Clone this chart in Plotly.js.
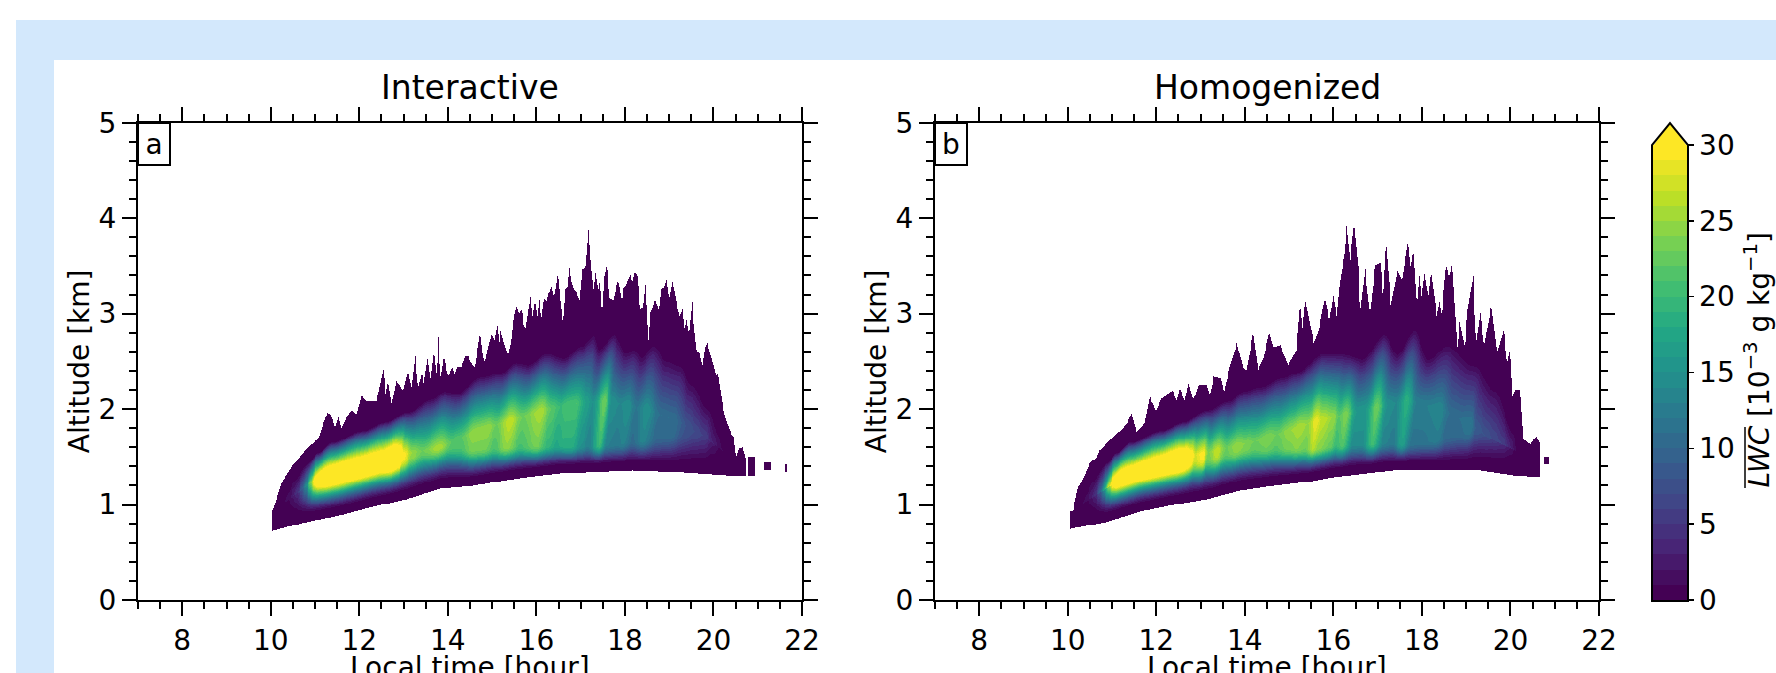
<!DOCTYPE html>
<html><head><meta charset="utf-8">
<script src="https://cdn.plot.ly/plotly-3.0.1.min.js"></script>
<style>
html,body{margin:0;padding:0;background:#fff;overflow:hidden;width:1776px;height:673px}
#blue{position:absolute;left:16px;top:20px;width:1760px;height:653px;background:#d3e8fc}
#white{position:absolute;left:54px;top:60px;width:1722px;height:613px;background:#fff}
#chart{position:absolute;left:0;top:0;width:1776px;height:673px}
</style></head><body>
<div id="blue"></div><div id="white"></div><div id="chart"></div>
<script>
// ---- values (hour, km, 10^-3 g/kg) ----
const aTopHour=[10.04,10.12,10.25,10.47,10.62,10.81,11.07,11.19,11.28,11.37,11.45,11.53,11.6,11.71,11.83,11.94,12.05,12.16,12.39,12.54,12.6,12.65,12.73,12.84,12.99,13.1,13.18,13.26,13.33,13.41,13.46,13.54,13.61,13.69,13.75,13.78,13.84,13.91,14.01,14.09,14.16,14.21,14.31,14.39,14.46,14.54,14.61,14.67,14.73,14.79,14.84,14.91,14.99,15.06,15.12,15.16,15.18,15.27,15.36,15.43,15.49,15.55,15.61,15.67,15.72,15.76,15.82,15.87,15.92,15.97,16.02,16.07,16.11,16.17,16.23,16.28,16.34,16.4,16.44,16.49,16.55,16.61,16.66,16.71,16.74,16.79,16.85,16.92,16.98,17.04,17.12,17.18,17.23,17.29,17.34,17.4,17.44,17.49,17.54,17.59,17.66,17.74,17.79,17.85,17.93,17.98,18.05,18.13,18.17,18.23,18.28,18.35,18.41,18.46,18.51,18.53,18.55,18.57,18.64,18.69,18.77,18.83,18.87,18.94,19.0,19.08,19.15,19.24,19.3,19.35,19.4,19.45,19.52,19.58,19.62,19.7,19.76,19.81,19.86,19.92,20.0,20.06,20.11,20.16,20.21,20.3,20.39,20.46,20.51,20.57,20.66,20.73];
const aTopAlt=[0.94,1.05,1.24,1.4,1.48,1.59,1.69,1.85,1.96,1.94,1.81,1.93,1.8,1.92,1.99,1.95,2.15,2.08,2.08,2.41,2.16,2.29,2.03,2.29,2.2,2.41,2.23,2.55,2.23,2.37,2.27,2.53,2.29,2.6,2.34,2.76,2.34,2.55,2.34,2.44,2.37,2.44,2.44,2.55,2.55,2.48,2.44,2.62,2.79,2.55,2.48,2.65,2.79,2.72,2.88,2.7,2.85,2.69,2.55,2.69,2.98,3.09,3.0,3.04,2.88,2.85,3.04,3.21,2.97,3.14,2.97,3.22,2.93,3.16,3.12,3.21,3.27,3.16,3.25,3.43,3.07,2.91,3.25,3.3,3.56,3.35,3.25,3.21,3.14,3.46,3.49,3.87,3.49,3.21,3.42,3.25,3.4,3.0,3.39,3.51,3.16,3.14,3.25,3.35,3.14,3.26,3.33,3.42,3.33,3.44,3.39,3.05,3.07,3.3,3.04,2.72,2.72,3.0,3.09,3.15,3.04,3.3,3.25,3.36,3.12,3.33,3.16,2.97,3.04,2.81,2.93,2.79,3.12,2.79,2.62,2.57,2.46,2.64,2.69,2.6,2.46,2.34,2.37,2.2,2.04,1.87,1.76,1.71,1.5,1.59,1.6,1.48];
const aBotHour=[10.04,10.8,11.56,12.3,13.07,13.82,14.57,15.33,15.78,16.53,17.13,18.18,19.32,20.3,20.72];
const aBotAlt=[0.73,0.82,0.89,0.98,1.06,1.17,1.2,1.26,1.29,1.33,1.34,1.36,1.34,1.31,1.31];
const aPeakHour=[10.1,11.0,12.9,13.82,14.57,15.33,16.15,16.9,17.55,18.5,19.3,19.8,20.4];
const aPeakAlt=[0.95,1.26,1.52,1.6,1.76,1.87,1.99,2.06,2.09,2.0,1.85,1.71,1.5];
const aCoreHour=[10.1,10.3,10.4,10.5,10.6,10.7,10.8,10.9,11.0,11.1,11.3,12.2,12.5,12.75,12.92,13.0,13.2,13.43,13.8,14.1,14.3,14.6,14.9,15.1,15.4,15.7,16.1,16.35,16.55,16.7,16.9,17.13,17.28,17.55,17.7,17.9,18.07,18.26,18.49,18.8,19.1,19.4,19.6,19.8,20.0,20.2,20.4];
const aCoreVal=[0.5,1,1.5,3,5,9,15,24,33,37,39,38,37,39,35,30,25,23,26,22,22,25,25,23,27,23,26,22,20,21,21,17,15,23,15,14,15,12,15,11,11,8,7,6,3,1,0.5];
const aFadeHour=[10.1,10.5,10.8,11,11.3,12,12.5,13,13.5,13.8,14.1,14.6,15.1,15.4,15.7,16.1,16.5,16.9,17.13,17.3,17.6,17.9,18.07,18.26,18.49,18.8,19.1,19.4,19.8,20.1,20.4];
const aFadeAlt=[1.0,1.3,1.45,1.55,1.66,1.78,1.87,1.98,2.12,2.2,2.18,2.35,2.4,2.5,2.48,2.6,2.55,2.68,2.8,2.65,2.8,2.62,2.65,2.58,2.7,2.55,2.5,2.3,2.05,1.8,1.55];
const aIslandStart=[20.8,21.16,21.62], aIslandEnd=[20.94,21.31,21.67], aIslandLow=[1.3,1.36,1.35], aIslandHigh=[1.5,1.44,1.42];

const bTopHour=[10.06,10.12,10.23,10.34,10.49,10.65,10.72,10.83,10.98,11.14,11.21,11.33,11.44,11.55,11.74,11.85,11.99,12.12,12.37,12.46,12.53,12.64,12.73,12.83,12.97,13.14,13.21,13.3,13.47,13.53,13.66,13.82,13.96,14.04,14.19,14.3,14.43,14.55,14.64,14.8,14.98,15.17,15.25,15.3,15.36,15.47,15.56,15.66,15.81,15.91,16.0,16.08,16.15,16.27,16.3,16.38,16.47,16.57,16.61,16.72,16.83,16.95,17.06,17.13,17.19,17.3,17.45,17.55,17.69,17.74,17.81,17.89,17.95,18.0,18.06,18.15,18.21,18.34,18.4,18.45,18.55,18.61,18.69,18.8,18.86,18.97,19.04,19.16,19.23,19.32,19.41,19.57,19.7,19.85,19.93,19.99,20.04,20.12,20.23,20.3,20.46,20.59,20.67];
const bTopAlt=[0.93,0.94,1.19,1.26,1.43,1.5,1.57,1.62,1.69,1.76,1.78,1.85,1.95,1.76,1.85,2.13,1.99,2.11,2.2,2.09,2.22,2.09,2.29,2.11,2.25,2.25,2.15,2.34,2.32,2.18,2.44,2.69,2.44,2.41,2.8,2.41,2.55,2.8,2.65,2.67,2.46,2.62,3.09,2.86,3.18,2.9,2.69,2.81,3.16,2.93,3.18,2.97,3.33,3.65,3.91,3.56,3.94,3.45,3.02,3.46,3.0,3.51,3.54,3.16,3.75,3.09,3.46,3.35,3.75,3.49,3.7,3.09,3.46,3.18,3.42,3.14,3.44,2.97,3.12,2.98,3.51,3.39,3.51,2.65,2.91,2.65,3.05,3.39,2.69,3.0,2.67,3.09,2.58,2.83,2.48,2.62,2.13,2.2,2.2,1.68,1.64,1.73,1.64];
const bBotHour=[10.06,10.87,11.63,12.38,13.14,13.89,14.65,15.4,16.0,16.76,17.36,19.32,20.08,20.67];
const bBotAlt=[0.75,0.82,0.93,1.0,1.06,1.15,1.2,1.24,1.29,1.33,1.36,1.36,1.31,1.29];
const bPeakHour=[10.13,11.17,12.68,14.03,15.03,15.63,16.98,17.66,18.43,19.1,19.47,20.43];
const bPeakAlt=[0.95,1.26,1.5,1.64,1.78,1.88,2.02,2.09,2.0,1.85,1.71,1.5];
const bCoreHour=[10.13,10.33,10.43,10.53,10.63,10.73,10.83,10.93,11.03,11.13,12.48,12.63,12.78,12.88,13.06,13.18,13.38,13.58,13.83,14.03,14.23,14.53,14.73,15.03,15.23,15.43,15.61,15.73,16.0,16.13,16.28,16.53,16.73,16.98,17.23,17.43,17.66,17.88,18.08,18.42,18.63,18.83,19.1,19.23,19.43,19.63,19.83,20.03,20.13,20.33];
const bCoreVal=[0.5,1,1.5,3,5,10,18,28,36,39,39,37,33,28,30,24,27,23,25,24,23,24,23,25,26,25,29,27,25,22,24,16,16,23,15,14,19,13,13,14,11,11,12,9,8,7,6,3,1,0.5];
const bFadeHour=[10.13,10.53,10.83,11.03,11.33,12.03,12.53,13.03,13.53,13.83,14.23,14.73,15.03,15.63,16.03,16.53,16.98,17.33,17.66,18.03,18.42,19.03,19.53,20.03,20.33];
const bFadeAlt=[1.0,1.3,1.45,1.55,1.66,1.78,1.87,2.0,2.1,2.2,2.25,2.35,2.4,2.6,2.6,2.55,2.8,2.6,2.85,2.55,2.7,2.5,2.25,1.8,1.6];
const bIslandStart=[20.78], bIslandEnd=[20.87], bIslandLow=[1.43], bIslandHigh=[1.5];

const hourTicks=[8,10,12,14,16,18,20,22];
const altTicks=[0,1,2,3,4,5];
const barTicks=[0,5,10,15,20,25,30];
const viridisStops=['#440154','#482475','#414487','#355f8d','#2a788e','#21918c','#22a884','#44bf70','#7ad151','#bddf26','#fde725'];

// ---- helpers ----
function lerp(xs,ys,t,round){
  if(t<=xs[0])return ys[0];
  for(let i=1;i<xs.length;i++){ if(t<=xs[i]){let f=(t-xs[i-1])/(xs[i]-xs[i-1]);if(round)f=f*f*(3-2*f);return ys[i-1]+f*(ys[i]-ys[i-1]);} }
  return ys[ys.length-1];
}
function hex(c){return [1,3,5].map(i=>parseInt(c.substr(i,2),16));}
function viridis(f){
  const p=f*(viridisStops.length-1),i=Math.min(Math.floor(p),viridisStops.length-2),g=p-i;
  const a=hex(viridisStops[i]),b=hex(viridisStops[i+1]);
  return 'rgb('+a.map((v,k)=>Math.round(v+g*(b[k]-v))).join(',')+')';
}
const bands=30, steppedScale=[];
for(let i=0;i<bands;i++){const c=viridis(i/(bands-1));steppedScale.push([i/bands,c],[(i+1)/bands,c]);}
const sstep=u=>{u=Math.max(0,Math.min(1,u));return u*u*(3-2*u);};

function field(d){
  const hours=[],alts=[],z=[];
  for(let i=0;i<600;i++)hours.push(10+i*0.02);
  for(let j=0;j<340;j++)alts.push(0.7+j*0.01);
  for(let j=0;j<alts.length;j++){
    const row=new Array(hours.length).fill(null),a=alts[j];
    for(let i=0;i<hours.length;i++){
      const t=hours[i];
      for(let k=0;k<d.isS.length;k++) if(t>=d.isS[k]&&t<=d.isE[k]&&a>=d.isL[k]&&a<=d.isH[k]) row[i]=0.3;
      if(t<d.topH[0]||t>d.topH[d.topH.length-1])continue;
      const top=lerp(d.topH,d.topA,t),bot=lerp(d.botH,d.botA,t);
      if(a<bot||a>top)continue;
      const P=Math.max(lerp(d.pkH,d.pkA,t),bot+0.05);
      const tt=t-0.24*(a-P);
      const F=Math.max(lerp(d.fdH,d.fdA,tt,true),P+0.1),V=lerp(d.coH,d.coV,tt,true);
      let v;
      if(a<=P){
        const depth=P-bot,R=Math.max(0.22,Math.min(0.38,0.38-(depth-0.45)*0.6));
        const e=sstep((a-bot-0.06)/R),w=(a-bot)/depth;
        v=V*(0.8+0.2*w)*e;
      } else {
        const u=Math.min(1,(a-P)/(F-P));
        v=V*(1-Math.pow(u,1.15));
      }
      row[i]=Math.max(v,0.3);
    }
    z.push(row);
  }
  return {hours,alts,z};
}
const fa=field({topH:aTopHour,topA:aTopAlt,botH:aBotHour,botA:aBotAlt,pkH:aPeakHour,pkA:aPeakAlt,coH:aCoreHour,coV:aCoreVal,fdH:aFadeHour,fdA:aFadeAlt,isS:aIslandStart,isE:aIslandEnd,isL:aIslandLow,isH:aIslandHigh});
const fb=field({topH:bTopHour,topA:bTopAlt,botH:bBotHour,botA:bBotAlt,pkH:bPeakHour,pkA:bPeakAlt,coH:bCoreHour,coV:bCoreVal,fdH:bFadeHour,fdA:bFadeAlt,isS:bIslandStart,isE:bIslandEnd,isL:bIslandLow,isH:bIslandHigh});

// ---- layout ----
const W=1776,H=673,FONT='"DejaVu Sans", sans-serif';
const px=x=>x/W, py=y=>1-y/H;
function xAxis(dom,anchor){return {domain:[px(dom[0]),px(dom[1])],range:[7,22],anchor,tickmode:'array',tickvals:hourTicks,ticktext:hourTicks.map(String),
  ticks:'outside',ticklen:14,tickwidth:2,tickcolor:'#000',linecolor:'#000',linewidth:2,mirror:'allticks',showgrid:false,zeroline:false,
  minor:{dtick:0.5,tick0:7,ticks:'outside',ticklen:7,tickwidth:2,tickcolor:'#000',showgrid:false},
  tickfont:{size:28,family:FONT,color:'#000'},automargin:false};}
function yAxis(anchor){return {domain:[py(600),py(122.7)],range:[0,5],anchor,tickmode:'array',tickvals:altTicks,ticktext:altTicks.map(String),
  ticks:'outside',ticklen:14,tickwidth:2,tickcolor:'#000',linecolor:'#000',linewidth:2,mirror:'allticks',showgrid:false,zeroline:false,ticklabelshift:-1.5,
  minor:{dtick:0.2,tick0:0,ticks:'outside',ticklen:7,tickwidth:2,tickcolor:'#000',showgrid:false},
  tickfont:{size:28,family:FONT,color:'#000'},title:{text:'Altitude [km]',font:{size:28,family:FONT,color:'#000'},standoff:1},automargin:false};}
const traces=[
 {type:'heatmap',x:fa.hours,y:fa.alts,z:fa.z,xaxis:'x',yaxis:'y',coloraxis:'coloraxis',zsmooth:false,hoverongaps:false},
 {type:'heatmap',x:fb.hours,y:fb.alts,z:fb.z,xaxis:'x2',yaxis:'y2',coloraxis:'coloraxis',zsmooth:false,hoverongaps:false}
];
const ann=(text,x,y,size,extra)=>Object.assign({text,xref:'paper',yref:'paper',x:px(x),y:py(y),showarrow:false,font:{size,family:FONT,color:'#000'},xanchor:'center',yanchor:'middle'},extra||{});
const barL=1653,barR=1687,barTop=145,barBot=600,tipY=123;
const layout={
 width:W,height:H,margin:{l:0,r:0,t:0,b:0,pad:0,autoexpand:false},paper_bgcolor:'rgba(0,0,0,0)',plot_bgcolor:'#fff',showlegend:false,
 xaxis:xAxis([138,802],'y'),yaxis:yAxis('x'),xaxis2:xAxis([935,1599],'y2'),yaxis2:yAxis('x2'),
 coloraxis:{cmin:0,cmax:30,colorscale:steppedScale,colorbar:{x:px(barL),xanchor:'left',xref:'paper',y:py(barBot),yanchor:'bottom',yref:'paper',
   lenmode:'pixels',len:barBot-barTop,thicknessmode:'pixels',thickness:barR-barL,xpad:0,ypad:0,outlinecolor:'#000',outlinewidth:0,
   tickmode:'array',tickvals:barTicks,ticktext:barTicks.map(String),ticks:'outside',ticklen:7,tickwidth:1.5,tickcolor:'#000',tickfont:{size:28,family:FONT,color:'#000'}}},
 annotations:[
  ann('Interactive',470,88,33),ann('Homogenized',1267,88,33),
  ann('Local time [hour]',470,667,28),ann('Local time [hour]',1267,667,28),
  ann('a',154,144,28,{width:30,height:40,bgcolor:'#fff',bordercolor:'#000',borderwidth:2,borderpad:0,align:'center',valign:'middle'}),
  ann('b',951,144,28,{width:30,height:40,bgcolor:'#fff',bordercolor:'#000',borderwidth:2,borderpad:0,align:'center',valign:'middle'}),
  ann('<i>LWC</i> [10<sup>−3</sup> g kg<sup>−1</sup>]',1758,360.5,28,{textangle:-90})
 ],
 shapes:[
  {type:'path',xref:'paper',yref:'paper',layer:'above',path:`M ${px(barL)} ${py(barTop+1)} L ${px((barL+barR)/2)} ${py(tipY)} L ${px(barR)} ${py(barTop+1)} Z`,fillcolor:'#fde725',line:{width:0}},
  {type:'path',xref:'paper',yref:'paper',layer:'above',path:`M ${px(barL-1)} ${py(barBot+1)} L ${px(barL-1)} ${py(barTop)} L ${px((barL+barR)/2)} ${py(tipY)} L ${px(barR+1)} ${py(barTop)} L ${px(barR+1)} ${py(barBot+1)} Z`,fillcolor:'rgba(0,0,0,0)',line:{color:'#000',width:2}},
  {type:'line',xref:'paper',yref:'paper',layer:'above',x0:px(1745),x1:px(1745),y0:py(427),y1:py(488),line:{color:'#000',width:1.5}}
 ]
};
Plotly.newPlot('chart',traces,layout,{displayModeBar:false,responsive:false,staticPlot:true});
</script></body></html>
